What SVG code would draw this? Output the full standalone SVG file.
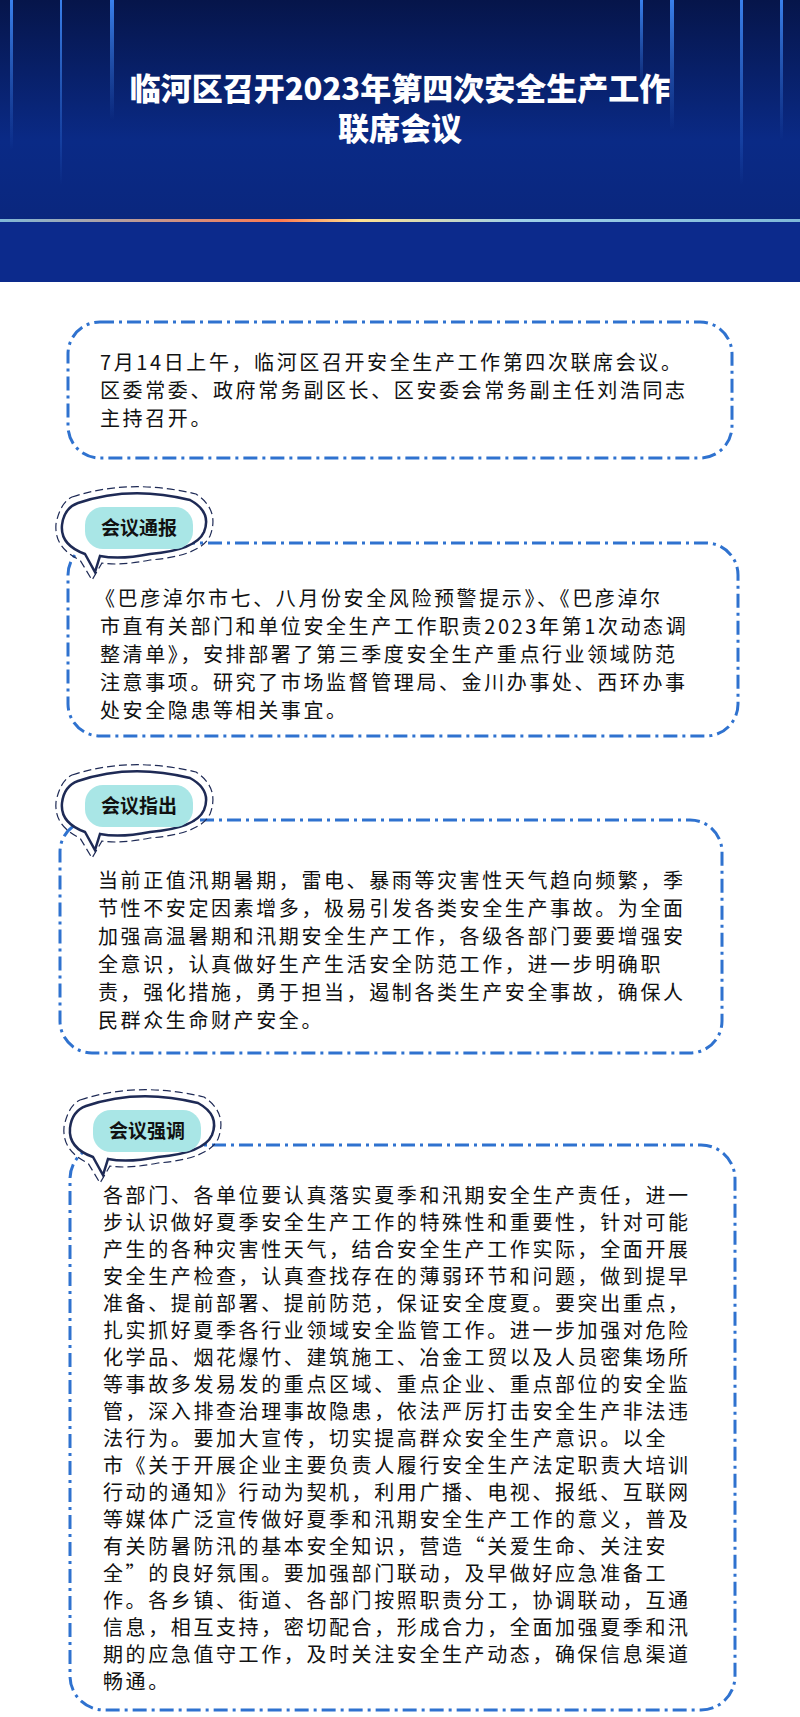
<svg xmlns="http://www.w3.org/2000/svg" width="800" height="1717" viewBox="0 0 800 1717">
<defs>
<linearGradient id="hdr" x1="0" y1="0" x2="0" y2="1"><stop offset="0" stop-color="#06154a"/><stop offset="0.5" stop-color="#0a2a86"/><stop offset="1" stop-color="#0a2478"/></linearGradient>
<linearGradient id="glow" x1="0" y1="0" x2="1" y2="0"><stop offset="0" stop-color="#7fb8d8"/><stop offset="0.35" stop-color="#ff7a50"/><stop offset="0.45" stop-color="#ffe090"/><stop offset="0.65" stop-color="#9fd0e8"/><stop offset="1" stop-color="#7fb8d8"/></linearGradient>
<linearGradient id="ray" x1="0" y1="0" x2="0" y2="1"><stop offset="0" stop-color="#3f8cff" stop-opacity="0.9"/><stop offset="1" stop-color="#3f8cff" stop-opacity="0"/></linearGradient>
</defs>
<style>
.box{fill:#fff;stroke:#2f72cf;stroke-width:3;stroke-dasharray:14 5 3 5}
.t{font-family:"Noto Sans CJK SC","Liberation Serif",serif;font-size:20px;fill:#111;letter-spacing:2.6px}
.lb{font-family:"Noto Sans CJK SC",sans-serif;font-size:19px;font-weight:bold;fill:#111}
.bub{fill:#fff;stroke:#1e2a55;stroke-width:2.5}
.bub2{fill:none;stroke:#1e2a55;stroke-width:1.2;stroke-dasharray:8 4}
.ttl{font-family:"Noto Sans CJK SC",sans-serif;font-size:31px;font-weight:900;fill:#fff}
</style>
<g id="header">
<rect x="0" y="0" width="800" height="282" fill="url(#hdr)"/>
<rect x="10" y="0" width="3" height="150" fill="url(#ray)"/>
<rect x="60" y="0" width="2" height="185" fill="url(#ray)"/>
<rect x="110" y="0" width="4" height="120" fill="url(#ray)"/>
<rect x="640" y="0" width="3" height="90" fill="url(#ray)"/>
<rect x="670" y="0" width="4" height="130" fill="url(#ray)"/>
<rect x="740" y="0" width="3" height="185" fill="url(#ray)"/>
<rect x="780" y="0" width="3" height="140" fill="url(#ray)"/>
<rect x="0" y="220" width="800" height="62" fill="#0c2a8c"/>
<rect x="0" y="219" width="800" height="3" fill="url(#glow)"/>
<text class="ttl" x="400" y="100" text-anchor="middle">临河区召开2023年第四次安全生产工作</text>
<text class="ttl" x="400" y="140" text-anchor="middle">联席会议</text>
</g>
<g id="box1">
<rect class="box" x="68" y="322" width="664" height="136" rx="32"/>
<text class="t" x="100" y="370">7月14日上午，临河区召开安全生产工作第四次联席会议。</text>
<text class="t" x="100" y="398">区委常委、政府常务副区长、区安委会常务副主任刘浩同志</text>
<text class="t" x="100" y="426">主持召开。</text>
</g>
<g id="box2">
<rect class="box" x="68" y="543" width="670" height="193" rx="32"/>
<g id="label2">
<path class="bub" d="M78,503 Q130,485 190,500 Q212,512 204,532 Q196,550 150,554 Q120,560 100,556 L95,572 L85,554 Q60,545 62,525 Q64,508 78,503 Z"/>
<path class="bub2" d="M72,497 Q130,478 196,494 Q220,510 210,536 Q200,556 150,560 Q120,566 102,563 L92,580 L80,560 Q54,548 56,524 Q60,503 72,497 Z"/>
<rect x="85" y="507" width="108" height="42" rx="18" fill="#a9e6e6"/>
<text class="lb" x="139" y="535" text-anchor="middle">会议通报</text>
</g>
<text class="t" x="95" y="606">《巴彦淖尔市七、八月份安全风险预警提示》、《巴彦淖尔</text>
<text class="t" x="100" y="634">市直有关部门和单位安全生产工作职责2023年第1次动态调</text>
<text class="t" x="100" y="662">整清单》，安排部署了第三季度安全生产重点行业领域防范</text>
<text class="t" x="100" y="690">注意事项。研究了市场监督管理局、金川办事处、西环办事</text>
<text class="t" x="100" y="718">处安全隐患等相关事宜。</text>
</g>
<g id="box3">
<rect class="box" x="60" y="820" width="662" height="233" rx="32"/>
<g id="label3">
<path class="bub" d="M78,781 Q130,763 190,778 Q212,790 204,810 Q196,828 150,832 Q120,838 100,834 L95,850 L85,832 Q60,823 62,803 Q64,786 78,781 Z"/>
<path class="bub2" d="M72,775 Q130,756 196,772 Q220,788 210,814 Q200,834 150,838 Q120,844 102,841 L92,858 L80,838 Q54,826 56,802 Q60,781 72,775 Z"/>
<rect x="85" y="785" width="108" height="42" rx="18" fill="#a9e6e6"/>
<text class="lb" x="139" y="813" text-anchor="middle">会议指出</text>
</g>
<text class="t" x="98" y="888">当前正值汛期暑期，雷电、暴雨等灾害性天气趋向频繁，季</text>
<text class="t" x="98" y="916">节性不安定因素增多，极易引发各类安全生产事故。为全面</text>
<text class="t" x="98" y="944">加强高温暑期和汛期安全生产工作，各级各部门要要增强安</text>
<text class="t" x="98" y="972">全意识，认真做好生产生活安全防范工作，进一步明确职</text>
<text class="t" x="98" y="1000">责，强化措施，勇于担当，遏制各类生产安全事故，确保人</text>
<text class="t" x="98" y="1028">民群众生命财产安全。</text>
</g>
<g id="box4">
<rect class="box" x="70" y="1145" width="665" height="565" rx="34"/>
<g id="label4">
<path class="bub" d="M86,1106 Q138,1088 198,1103 Q220,1115 212,1135 Q204,1153 158,1157 Q128,1163 108,1159 L103,1175 L93,1157 Q68,1148 70,1128 Q72,1111 86,1106 Z"/>
<path class="bub2" d="M80,1100 Q138,1081 204,1097 Q228,1113 218,1139 Q208,1159 158,1163 Q128,1169 110,1166 L100,1183 L88,1163 Q62,1151 64,1127 Q68,1106 80,1100 Z"/>
<rect x="93" y="1110" width="108" height="42" rx="18" fill="#a9e6e6"/>
<text class="lb" x="147" y="1138" text-anchor="middle">会议强调</text>
</g>
<text class="t" x="103" y="1203">各部门、各单位要认真落实夏季和汛期安全生产责任，进一</text>
<text class="t" x="103" y="1230">步认识做好夏季安全生产工作的特殊性和重要性，针对可能</text>
<text class="t" x="103" y="1257">产生的各种灾害性天气，结合安全生产工作实际，全面开展</text>
<text class="t" x="103" y="1284">安全生产检查，认真查找存在的薄弱环节和问题，做到提早</text>
<text class="t" x="103" y="1311">准备、提前部署、提前防范，保证安全度夏。要突出重点，</text>
<text class="t" x="103" y="1338">扎实抓好夏季各行业领域安全监管工作。进一步加强对危险</text>
<text class="t" x="103" y="1365">化学品、烟花爆竹、建筑施工、冶金工贸以及人员密集场所</text>
<text class="t" x="103" y="1392">等事故多发易发的重点区域、重点企业、重点部位的安全监</text>
<text class="t" x="103" y="1419">管，深入排查治理事故隐患，依法严厉打击安全生产非法违</text>
<text class="t" x="103" y="1446">法行为。要加大宣传，切实提高群众安全生产意识。以全</text>
<text class="t" x="103" y="1473">市《关于开展企业主要负责人履行安全生产法定职责大培训</text>
<text class="t" x="103" y="1500">行动的通知》行动为契机，利用广播、电视、报纸、互联网</text>
<text class="t" x="103" y="1527">等媒体广泛宣传做好夏季和汛期安全生产工作的意义，普及</text>
<text class="t" x="103" y="1554">有关防暑防汛的基本安全知识，营造“关爱生命、关注安</text>
<text class="t" x="103" y="1581">全”的良好氛围。要加强部门联动，及早做好应急准备工</text>
<text class="t" x="103" y="1608">作。各乡镇、街道、各部门按照职责分工，协调联动，互通</text>
<text class="t" x="103" y="1635">信息，相互支持，密切配合，形成合力，全面加强夏季和汛</text>
<text class="t" x="103" y="1662">期的应急值守工作，及时关注安全生产动态，确保信息渠道</text>
<text class="t" x="103" y="1689">畅通。</text>
</g>
</svg>
